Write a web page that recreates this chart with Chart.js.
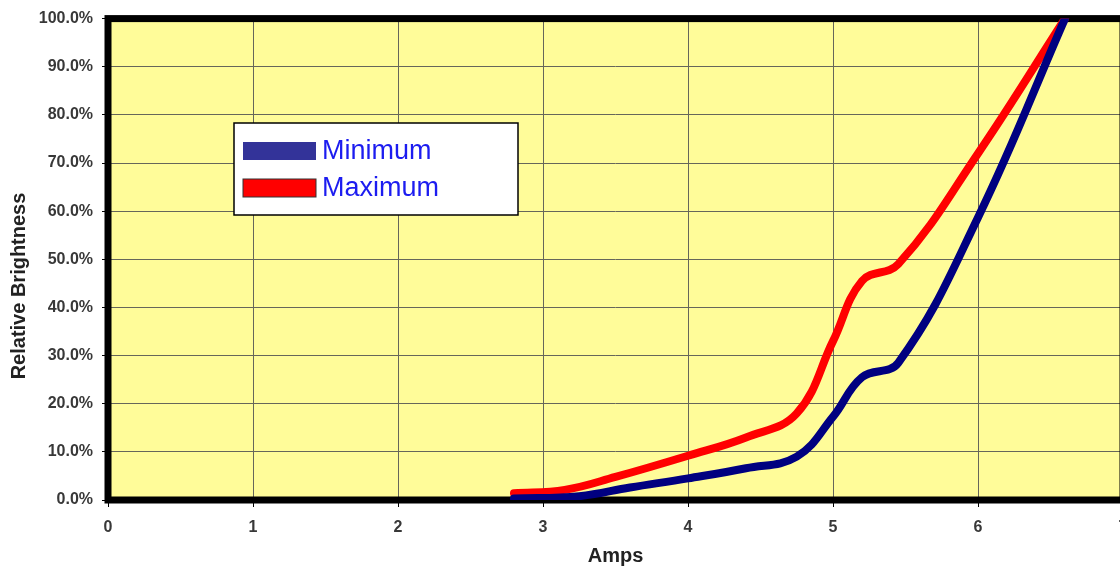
<!DOCTYPE html>
<html>
<head>
<meta charset="utf-8">
<script src="https://cdn.jsdelivr.net/npm/chart.js@4.4.1/dist/chart.umd.min.js"></script>
<style>
  html, body { margin: 0; padding: 0; background: #fff; overflow: hidden; }
  #wrap { width: 1140px; height: 568px; }
</style>
</head>
<body>
<div id="wrap"><canvas id="brightnessChart"></canvas></div>
<script>
// Data
const seriesNames = ['Minimum', 'Maximum'];
const minAmps = [2.8, 3.25, 3.6, 4.0, 4.4, 4.75, 5.0, 5.2, 5.45, 6.0, 6.6];
const minBrightness = [0.3, 0.8, 2.6, 4.5, 6.6, 9.0, 17.3, 25.5, 28.5, 58.7, 100];
const maxAmps = [2.8, 3.15, 3.5, 4.0, 4.4, 4.75, 5.0, 5.2, 5.45, 6.0, 6.6];
const maxBrightness = [1.4, 2.1, 4.8, 9.2, 13.0, 18.0, 33.0, 45.5, 49.0, 72.0, 100];
const xTicks = [0, 1, 2, 3, 4, 5, 6, 7];
const yTicks = [0, 10, 20, 30, 40, 50, 60, 70, 80, 90, 100];
const xTitle = 'Amps';
const yTitle = 'Relative Brightness';

const FONT = "'Liberation Sans', Arial, sans-serif";
const lineColors = ['#000080', '#ff0000'];
const swatchColors = ['#333399', '#ff0000'];

function toPoints(xs, ys) {
  return xs.map((x, i) => ({ x: x, y: ys[i] }));
}

// Yellow plot background + thick black frame
const plotFrame = {
  id: 'plotFrame',
  beforeDraw(chart) {
    const { ctx, chartArea: a } = chart;
    ctx.save();
    ctx.fillStyle = '#fffc99';
    ctx.fillRect(a.left, a.top, a.right - a.left, a.bottom - a.top);
    ctx.restore();
  },
  beforeDatasetsDraw(chart) {
    const { ctx, chartArea: a } = chart;
    ctx.save();
    ctx.strokeStyle = '#000';
    ctx.lineWidth = 7;
    ctx.strokeRect(a.left, a.top, a.right - a.left, a.bottom - a.top);
    ctx.restore();
  }
};

// Vertical axis title, placed like the original
const yTitlePlugin = {
  id: 'yTitlePlugin',
  afterDraw(chart) {
    const { ctx } = chart;
    ctx.save();
    ctx.translate(19, 286);
    ctx.rotate(-Math.PI / 2);
    ctx.font = 'bold 20px ' + FONT;
    ctx.fillStyle = '#222';
    ctx.textAlign = 'center';
    ctx.textBaseline = 'middle';
    ctx.fillText(yTitle, 0, 0);
    ctx.restore();
  }
};

// Boxed legend inside the plot area
const boxLegend = {
  id: 'boxLegend',
  afterDraw(chart) {
    const { ctx } = chart;
    const bx = 234, by = 123, bw = 284, bh = 92;
    ctx.save();
    ctx.fillStyle = '#fff';
    ctx.fillRect(bx, by, bw, bh);
    ctx.strokeStyle = '#000';
    ctx.lineWidth = 1.5;
    ctx.strokeRect(bx, by, bw, bh);
    ctx.font = '27px ' + FONT;
    ctx.textBaseline = 'middle';
    chart.data.datasets.forEach((ds, i) => {
      const cy = by + 28 + i * 37;
      ctx.fillStyle = swatchColors[i];
      ctx.fillRect(bx + 9, cy - 9, 73, 18);
      if (i === 1) {
        ctx.strokeStyle = '#333';
        ctx.lineWidth = 1;
        ctx.strokeRect(bx + 9, cy - 9, 73, 18);
      }
      ctx.fillStyle = '#1c1cf0';
      ctx.fillText(ds.label, bx + 88, cy + 1);
    });
    ctx.restore();
  }
};

const ctx = document.getElementById('brightnessChart').getContext('2d');
new Chart(ctx, {
  type: 'line',
  data: {
    datasets: [
      {
        label: seriesNames[0],
        data: toPoints(minAmps, minBrightness),
        borderColor: lineColors[0],
        borderWidth: 8,
        borderCapStyle: 'round',
        pointRadius: 0,
        tension: 0.4,
        fill: false
      },
      {
        label: seriesNames[1],
        data: toPoints(maxAmps, maxBrightness),
        borderColor: lineColors[1],
        borderWidth: 8,
        borderCapStyle: 'round',
        pointRadius: 0,
        tension: 0.4,
        fill: false
      }
    ]
  },
  options: {
    responsive: true,
    maintainAspectRatio: false,
    animation: false,
    layout: {
      padding: { top: 17, right: 17, left: 0, bottom: 0 }
    },
    plugins: {
      legend: { display: false },
      tooltip: { enabled: false }
    },
    scales: {
      x: {
        type: 'linear',
        min: xTicks[0],
        max: xTicks[xTicks.length - 1],
        afterBuildTicks: (scale) => { scale.ticks = xTicks.map(v => ({ value: v })); },
        afterFit: (scale) => { scale.height = 68; },
        grid: {
          color: '#66665a',
          lineWidth: 1,
          tickColor: '#000',
          tickLength: 7
        },
        border: { display: false },
        ticks: {
          color: '#383838',
          font: { family: FONT, size: 16, weight: 'bold' },
          padding: 11,
          maxRotation: 0,
          callback: (v) => String(v)
        },
        title: {
          display: true,
          text: xTitle,
          color: '#222',
          font: { family: FONT, size: 20, weight: 'bold' },
          padding: { top: 0, bottom: 0 }
        }
      },
      y: {
        min: yTicks[0],
        max: yTicks[yTicks.length - 1],
        afterBuildTicks: (scale) => { scale.ticks = yTicks.map(v => ({ value: v })); },
        afterFit: (scale) => { scale.width = 108; },
        grid: {
          color: '#66665a',
          lineWidth: 1,
          tickColor: '#000',
          tickLength: 6
        },
        border: { display: false },
        ticks: {
          color: '#383838',
          font: { family: FONT, size: 16, weight: 'bold' },
          padding: 9,
          callback: (v) => v.toFixed(1) + '%'
        }
      }
    }
  },
  plugins: [plotFrame, yTitlePlugin, boxLegend]
});
</script>
</body>
</html>
